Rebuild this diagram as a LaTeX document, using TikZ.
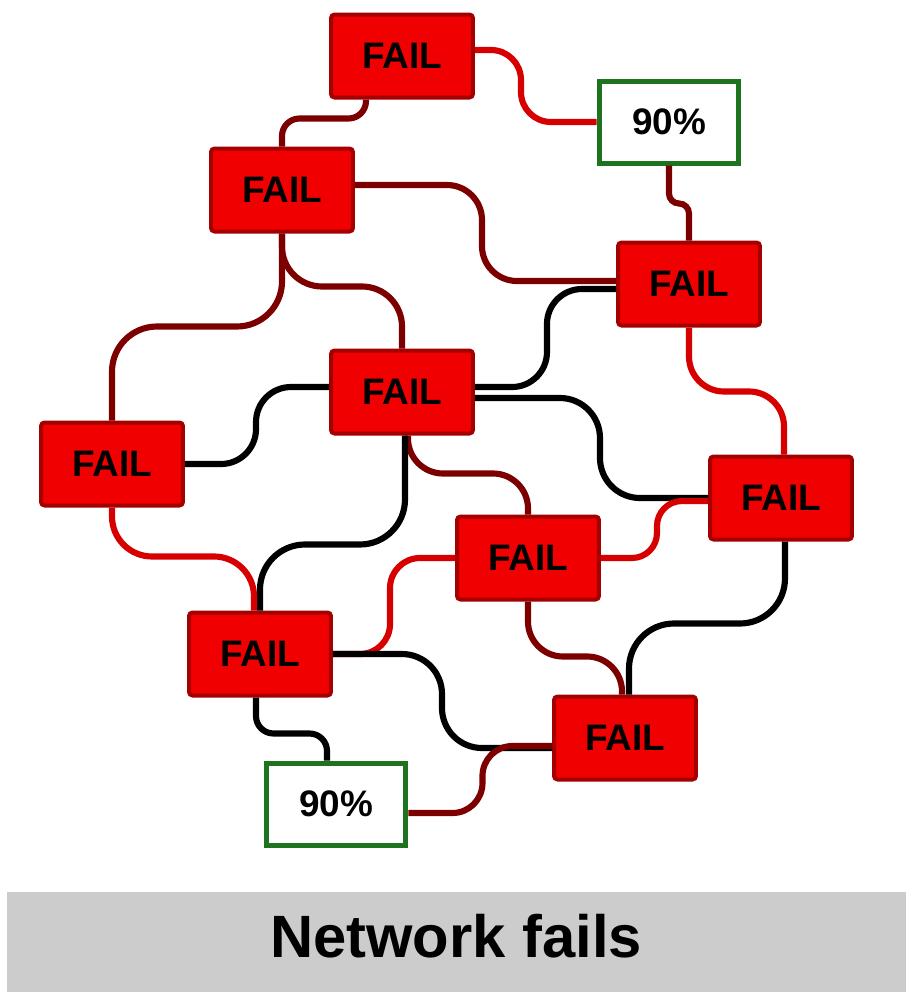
\documentclass[tikz,border=0pt]{standalone}
\usepackage{fontspec}
\setmainfont{Liberation Sans}
\usetikzlibrary{calc}
\definecolor{boxred}{RGB}{240,0,0}
\definecolor{boxedge}{RGB}{165,0,0}
\definecolor{okgreen}{RGB}{30,115,30}
\definecolor{linkred}{RGB}{215,0,0}
\definecolor{linkdark}{RGB}{125,0,0}
\definecolor{bandgray}{RGB}{204,204,204}

\begin{document}
\begin{tikzpicture}[
  x=0.02cm, y=-0.02cm,
  failbox/.style={draw=boxedge, fill=boxred, line width=0.08cm, rounded corners=2pt, minimum width=2.84cm, minimum height=1.66cm, inner sep=0pt, font=\fontsize{21}{24}\selectfont\bfseries},
  okbox/.style={draw=okgreen, fill=white, line width=0.1cm, minimum width=2.8cm, minimum height=1.64cm, inner sep=0pt, font=\fontsize{21}{24}\selectfont\bfseries},
  link/.style={line width=3.5pt, rounded corners=#1},
  link/.default=0.6cm
]
\useasboundingbox (0,0) rectangle (906,992);
\fill[bandgray] (7,892) rectangle (906,992);
\node[anchor=base, font=\fontsize{34}{38}\selectfont\bfseries] (title) at (456,957) {Network fails};

\node[failbox] (fail1) at (402,56) {FAIL};
\node[okbox] (ok1) at (669,122) {90\%};
\node[failbox] (fail2) at (282,190) {FAIL};
\node[failbox] (fail3) at (689,284) {FAIL};
\node[failbox] (fail4) at (402,392) {FAIL};
\node[failbox] (fail5) at (112,464) {FAIL};
\node[failbox] (fail6) at (781,498) {FAIL};
\node[failbox] (fail7) at (528,558) {FAIL};
\node[failbox] (fail8) at (260,654) {FAIL};
\node[failbox] (fail9) at (625,738) {FAIL};
\node[okbox] (ok2) at (336,804) {90\%};

% upper part
\draw[link, linkred] ($(fail1.east)+(0,-6)$) -- ++(46,0) |- (ok1.west);
\draw[link=0.35cm, linkdark] ($(fail1.south)+(-36,0)$) -- ++(0,19) -| (fail2.north);
\draw[link=0.2cm, linkdark] (ok1.south) -- ++(0,38) -| (fail3.north);
\draw[link=0.7cm, linkdark] ($(fail2.east)+(0,-5)$) -- ++(127,0) |- ($(fail3.west)+(0,-3)$);
\draw[link=0.9cm, linkdark] (fail2.south) -- ++(0,93) -| (fail5.north);
\draw[link=0.8cm, linkdark] (fail2.south) -- ++(0,53) -| (fail4.north);
\draw[link=0.7cm, black] ($(fail4.east)+(0,-5)$) -- ++(72,0) |- ($(fail3.west)+(0,5)$);
\draw[link=0.7cm, linkred] (fail3.south) -- ++(0,64) -| ($(fail6.north)+(3,0)$);

% middle part
\draw[link=0.7cm, black] ($(fail4.west)+(0,-5)$) -- ++(-73,0) |- (fail5.east);
\draw[link=0.8cm, black] ($(fail4.east)+(0,6)$) -- ++(125,0) |- (fail6.west);
\draw[link=0.7cm, linkdark] ($(fail4.south)+(6,0)$) -- ++(0,38) -| (fail7.north);
\draw[link=0.9cm, black] ($(fail4.south)+(3,0)$) -- ++(0,109) -| (fail8.north);
\draw[link=0.8cm, linkred] (fail5.south) -- ++(0,49) -| ($(fail8.north)+(-6,0)$);
\draw[link, linkred] (fail7.west) -- ++(-65,0) |- (fail8.east);
\draw[link=0.5cm, linkred] (fail7.east) -- ++(56,0) |- ($(fail6.west)+(0,3)$);

% lower part
\draw[link=0.7cm, linkdark] (fail7.south) -- ++(0,55) -| ($(fail9.north)+(-3,0)$);
\draw[link=0.9cm, black] ($(fail6.south)+(4,0)$) -- ++(0,82) -| ($(fail9.north)+(4,0)$);
\draw[link=0.8cm, black] (fail8.east) -- ++(109,0) |- ($(fail9.west)+(0,10)$);
\draw[link, linkdark] ($(ok2.east)+(0,9)$) -- ++(74,0) |- ($(fail9.west)+(0,8)$);
\draw[link=0.35cm, black] ($(fail8.south)+(-4,0)$) -- ++(0,36) -| ($(ok2.north)+(-9,0)$);
\end{tikzpicture}
\end{document}
